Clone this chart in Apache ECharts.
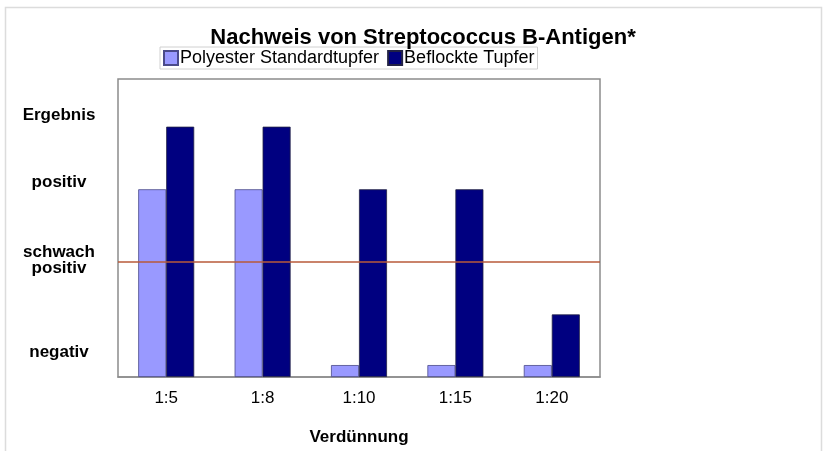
<!DOCTYPE html>
<html>
<head>
<meta charset="utf-8">
<script src="https://cdn.jsdelivr.net/npm/echarts@6/dist/echarts.min.js"></script>
<style>
  html, body { margin: 0; padding: 0; background: #fff; }
  #chart { width: 825px; height: 451px; }
</style>
</head>
<body>
<div id="chart"></div>
<script>
// Verdünnungsstufen
const dilutions = ['1:5', '1:8', '1:10', '1:15', '1:20']
// Ergebnis je Tupfer (0 = Achsenursprung, 100 = Oberkante)
const polyester = [63, 63, 4, 4, 4]
const beflockt = [84, 84, 63, 63, 21]
// Beschriftung der Ergebnis-Achse
const resultLevels = [8.4, 39.3, 65.4, 87.9]
const resultLabels = ['negativ', 'schwach\npositiv', 'positiv', 'Ergebnis']
// Grenze schwach positiv
const threshold = 38.6

const font = 'Liberation Sans, Arial, sans-serif'
const chart = echarts.init(document.getElementById('chart'))

chart.setOption({
  animation: false,
  backgroundColor: '#fff',
  title: {
    text: 'Nachweis von Streptococcus B-Antigen*',
    left: 418,
    top: 22,
    textAlign: 'center',
    textStyle: { fontFamily: font, fontSize: 22, fontWeight: 'bold', color: '#000' },
  },
  legend: {
    left: 160,
    top: 47,
    padding: [2, 3],
    itemGap: 8,
    itemWidth: 14,
    itemHeight: 14,
    icon: 'rect',
    borderColor: '#d0d0d0',
    borderWidth: 1,
    textStyle: { fontFamily: font, fontSize: 18, color: '#000', padding: [0, 0, 0, -3] },
  },
  grid: {
    left: 118,
    top: 79,
    right: 225,
    bottom: 74,
    outerBoundsMode: 'none',
    show: true,
    borderColor: '#8c8c8c',
    borderWidth: 1.5,
  },
  xAxis: {
    type: 'category',
    data: dilutions,
    name: 'Verdünnung',
    nameLocation: 'middle',
    nameGap: 52,
    nameTextStyle: { fontFamily: font, fontSize: 17, fontWeight: 'bold', color: '#000' },
    axisLine: { lineStyle: { color: '#8c8c8c', width: 1.5 } },
    axisTick: { length: 4, lineStyle: { color: '#8c8c8c' } },
    axisLabel: { fontFamily: font, fontSize: 17, color: '#000', margin: 13 },
  },
  yAxis: {
    type: 'value',
    min: 0,
    max: 100,
    splitLine: { show: false },
    axisLine: { show: false },
    axisTick: { show: false },
    axisLabel: {
      customValues: resultLevels,
      formatter: (v) => resultLabels[resultLevels.indexOf(v)],
      align: 'center',
      margin: 59,
      lineHeight: 16,
      fontFamily: font,
      fontSize: 17,
      fontWeight: 'bold',
      color: '#000',
    },
  },
  series: [
    {
      name: 'Polyester Standardtupfer',
      type: 'bar',
      data: polyester,
      barWidth: 28,
      barGap: '0%',
      itemStyle: { color: '#9999ff', borderColor: '#4a4a8a', borderWidth: 0.8 },
      markLine: {
        silent: true,
        symbol: 'none',
        label: { show: false },
        lineStyle: { color: '#b85a3a', width: 1.5, type: 'solid' },
        data: [{ yAxis: threshold }],
      },
      z: 2,
    },
    {
      name: 'Beflockte Tupfer',
      type: 'bar',
      data: beflockt,
      barWidth: 28,
      itemStyle: { color: '#000080', borderColor: '#222244', borderWidth: 0.8 },
      z: 2,
    },
  ],
  graphic: [
    {
      type: 'rect',
      shape: { x: 5.5, y: 7.5, width: 816, height: 460 },
      style: { fill: 'none', stroke: '#dcdcdc', lineWidth: 1.5 },
      silent: true,
    },
  ],
})
</script>
</body>
</html>
